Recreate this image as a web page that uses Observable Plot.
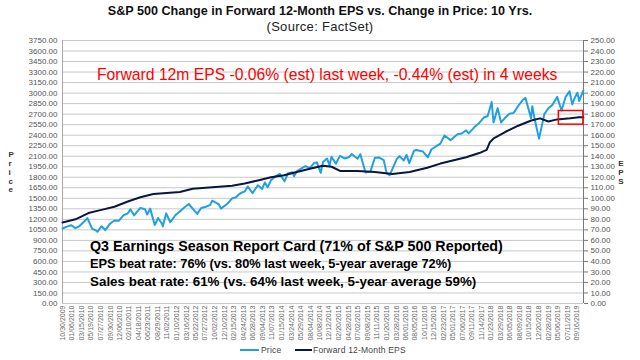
<!DOCTYPE html>
<html>
<head>
<meta charset="utf-8">
<script src="https://cdn.jsdelivr.net/npm/d3@7"></script>
<script src="https://cdn.jsdelivr.net/npm/@observablehq/plot@0.6"></script>
<style>
  html, body { margin: 0; padding: 0; background: #fff; }
  body { font-family: "Liberation Sans", Arial, sans-serif; }
  #wrap { position: relative; width: 640px; height: 360px; overflow: hidden; background: #fff; }
  #title { position: absolute; left: 0; top: 5px; width: 640px; text-align: center; font-weight: bold; font-size: 12.6px; line-height: 1; color: #111; }
  #subtitle { position: absolute; left: 0; top: 20px; width: 640px; text-align: center; font-size: 13px; letter-spacing: 0.3px; line-height: 1; color: #222; }
  #chart { position: absolute; left: 0; top: 36px; }
  .note { position: absolute; white-space: nowrap; line-height: 1; }
  #red { left: 97px; top: 67px; font-size: 15.7px; color: #ff0000; }
  #q3 { left: 90px; top: 239px; font-size: 14.3px; font-weight: bold; color: #000; }
  #eps { left: 90px; top: 258px; font-size: 12.8px; font-weight: bold; color: #000; }
  #sales { left: 90px; top: 275px; font-size: 13.4px; font-weight: bold; color: #000; }
  .lg { position: absolute; top: 345px; font-size: 8.5px; letter-spacing: 0.2px; color: #444; line-height: 10px; white-space: nowrap; }
  .sw { position: absolute; top: 349px; height: 0; border-top: 2px solid; }
</style>
</head>
<body>
<div id="wrap">
  <div id="title">S&amp;P 500 Change in Forward 12-Month EPS vs. Change in Price: 10 Yrs.</div>
  <div id="subtitle">(Source: FactSet)</div>
  <div id="chart"></div>
  <div class="note" id="red">Forward 12m EPS -0.06% (est) last week, -0.44% (est) in 4 weeks</div>
  <div class="note" id="q3">Q3 Earnings Season Report Card (71% of S&amp;P 500 Reported)</div>
  <div class="note" id="eps">EPS beat rate: 76% (vs. 80% last week, 5-year average 72%)</div>
  <div class="note" id="sales">Sales beat rate: 61% (vs. 64% last week, 5-year average 59%)</div>
  <div id="legend"></div>
</div>
<script>
// ---- data ----
const seriesNames = ["Price", "Forward 12-Month EPS"];
const priceDates = [
"2009-10-30","2009-11-30","2009-12-31","2010-01-29","2010-02-26","2010-03-31","2010-04-23","2010-05-25","2010-06-30","2010-07-02",
"2010-07-30","2010-08-26","2010-09-30","2010-10-29","2010-11-30","2010-12-31","2011-01-31","2011-02-18","2011-03-16","2011-04-29",
"2011-05-31","2011-06-16","2011-07-07","2011-08-08","2011-08-31","2011-09-30","2011-10-03","2011-10-27","2011-11-25","2011-12-30",
"2012-01-31","2012-02-29","2012-04-02","2012-06-01","2012-06-29","2012-07-31","2012-08-31","2012-09-14","2012-10-31","2012-11-15",
"2012-12-31","2013-01-31","2013-02-28","2013-03-28","2013-04-30","2013-05-21","2013-06-24","2013-07-31","2013-08-30","2013-09-18",
"2013-10-08","2013-10-31","2013-11-29","2013-12-31","2014-02-03","2014-02-28","2014-03-31","2014-04-11","2014-04-30","2014-05-30",
"2014-06-30","2014-07-31","2014-08-29","2014-09-18","2014-10-15","2014-10-31","2014-11-28","2014-12-16","2014-12-29","2015-01-30",
"2015-02-27","2015-03-31","2015-04-30","2015-05-21","2015-06-30","2015-07-20","2015-08-25","2015-09-29","2015-10-30","2015-11-30",
"2015-12-31","2016-01-20","2016-02-11","2016-03-31","2016-04-20","2016-05-19","2016-06-08","2016-06-27","2016-07-29","2016-08-15",
"2016-09-30","2016-11-04","2016-11-30","2016-12-30","2017-01-31","2017-03-01","2017-04-13","2017-05-31","2017-06-30","2017-07-31",
"2017-08-18","2017-09-29","2017-10-31","2017-11-30","2017-12-29","2018-01-26","2018-02-08","2018-03-09","2018-04-02","2018-04-30",
"2018-05-31","2018-06-29","2018-07-31","2018-08-31","2018-09-20","2018-10-29","2018-11-07","2018-11-23","2018-12-24","2019-01-31",
"2019-02-28","2019-03-29","2019-04-30","2019-05-31","2019-06-28","2019-07-26","2019-08-14","2019-08-30","2019-09-19","2019-10-02",
"2019-10-31"
];
const priceValues = [
1070,1096,1115,1074,1104,1169,1217,1067,1031,1022,
1102,1047,1141,1183,1181,1258,1286,1343,1257,1364,
1345,1268,1353,1119,1219,1131,1099,1285,1159,1258,
1312,1366,1419,1278,1362,1379,1407,1466,1412,1353,
1426,1498,1515,1569,1598,1669,1573,1686,1633,1725,
1656,1757,1806,1848,1742,1859,1872,1815,1884,1924,
1960,1931,2003,2011,1862,2018,2068,1972,2091,1995,
2105,2068,2086,2131,2063,2129,1868,1884,2079,2080,
2044,1859,1829,2060,2102,2040,2119,2001,2174,2190,
2168,2085,2199,2239,2279,2396,2329,2412,2423,2470,
2426,2519,2575,2648,2674,2873,2581,2786,2582,2648,
2705,2718,2816,2902,2931,2641,2814,2633,2351,2704,
2784,2834,2946,2752,2942,3026,2840,2926,3006,2888,
3038
];
const epsDates = [
"2009-10-30","2010-01-29","2010-04-30","2010-07-30","2010-10-29","2011-01-31","2011-04-29","2011-07-29","2011-10-31","2012-01-31",
"2012-04-30","2012-07-31","2012-10-31","2013-01-31","2013-04-30","2013-07-31","2013-10-31","2014-01-31","2014-04-30","2014-07-31",
"2014-10-31","2014-12-31","2015-02-27","2015-06-30","2015-10-30","2016-02-29","2016-06-30","2016-10-31","2017-01-31","2017-04-28",
"2017-07-31","2017-10-31","2017-12-22","2018-01-12","2018-02-09","2018-04-30","2018-07-31","2018-10-31","2018-12-31","2019-02-28",
"2019-04-30","2019-07-31","2019-09-30","2019-10-31"
];
const epsValues = [
77,80,86,89,92,97,101,104,105,106,
109,110,111,112,114,117,120,122,125,128,
131,130,126,126,125,123,125,129,133,136,
139,143,146,153,157,163,169,174,176,173,
175,176,177,177
];
const priceTicks = [0,150,300,450,600,750,900,1050,1200,1350,1500,1650,1800,1950,2100,2250,2400,2550,2700,2850,3000,3150,3300,3450,3600,3750];
const epsPerPrice = 15; // right axis: 0..250 aligned with left 0..3750
const xTickDates = [
"2009-10-30","2010-01-06","2010-03-15","2010-05-19","2010-07-27","2010-09-30","2010-12-06","2011-02-10","2011-04-18","2011-06-23",
"2011-08-29","2011-11-02","2012-01-10","2012-03-16","2012-05-22","2012-07-27","2012-10-02","2012-12-10","2013-02-15","2013-04-24",
"2013-06-28","2013-09-04","2013-11-07","2014-01-15","2014-03-24","2014-05-29","2014-08-04","2014-10-08","2014-12-12","2015-02-20",
"2015-04-28","2015-07-02","2015-09-08","2015-11-11","2016-01-20","2016-03-28","2016-06-01","2016-08-05","2016-10-11","2016-12-15",
"2017-02-23","2017-05-01","2017-07-06","2017-09-11","2017-11-14","2018-01-23","2018-03-29","2018-06-05","2018-08-09","2018-10-15",
"2018-12-20","2019-02-28","2019-05-06","2019-07-11","2019-09-16"
];
const xDomain = ["2009-10-30", "2019-11-01"];
const boxDates = ["2019-05-12", "2019-10-31"];
const boxEps = [170, 183];
const colors = ["#20a0e0", "#0b1640"];

// ---- legend (HTML, below the plot) ----
const legendEl = document.getElementById("legend");
[[240, 19, 261], [295, 17, 313]].forEach(([sx, sw, tx], i) => {
  const s = document.createElement("div");
  s.className = "sw"; s.style.left = sx + "px"; s.style.width = sw + "px"; s.style.borderColor = colors[i];
  const t = document.createElement("div");
  t.className = "lg"; t.style.left = tx + "px"; t.textContent = seriesNames[i];
  legendEl.appendChild(s); legendEl.appendChild(t);
});

// ---- build ----
const price = priceDates.map((d, i) => ({date: new Date(d), v: priceValues[i]}));
const eps = epsDates.map((d, i) => ({date: new Date(d), v: epsValues[i]}));
const x0 = new Date(xDomain[0]), x1 = new Date(xDomain[1]);
const fmt = d3.utcFormat("%m/%d/%Y");

const chart = Plot.plot({
  width: 640,
  height: 306,
  marginTop: 4,
  marginBottom: 39,
  marginLeft: 62,
  marginRight: 57,
  style: {fontFamily: "Liberation Sans, Arial, sans-serif", fontSize: "8px", color: "#555", background: "transparent"},
  x: {type: "utc", domain: [x0, x1]},
  y: {domain: [0, 3750]},
  marks: [
    Plot.ruleY(priceTicks, {stroke: "#c8c8c8", strokeWidth: 1}),
    Plot.ruleX([x0], {stroke: "#aaa"}),
    Plot.ruleX([x1], {stroke: "#777"}),
    Plot.axisY(priceTicks, {anchor: "left", tickSize: 0, tickPadding: 5, tickFormat: d => d.toFixed(2), label: null, fill: "#555"}),
    Plot.axisY(priceTicks, {anchor: "right", tickSize: 4, tickPadding: 3, stroke: "#777", tickFormat: d => (d / epsPerPrice).toFixed(2), label: null, fill: "#555"}),
    Plot.axisX(xTickDates.map(d => new Date(d)), {tickRotate: -90, tickSize: 0, tickPadding: 2, fontSize: 7, tickFormat: fmt, label: null, fill: "#666"}),
    Plot.lineY(price, {x: "date", y: "v", stroke: colors[0], strokeWidth: 2}),
    Plot.lineY(eps, {x: "date", y: d => d.v * epsPerPrice, stroke: colors[1], strokeWidth: 2}),
    Plot.rect([0], {x1: () => new Date(boxDates[0]), x2: () => new Date(boxDates[1]), y1: () => boxEps[0] * epsPerPrice, y2: () => boxEps[1] * epsPerPrice, fill: "none", stroke: "#ff0000", strokeWidth: 1.5}),
    Plot.text(["P\nr\ni\nc\ne"], {frameAnchor: "left", dx: -54, fontSize: 8, fontWeight: "bold", fill: "#333", lineHeight: 1.1}),
    Plot.text(["E\nP\nS"], {frameAnchor: "right", dx: 40, fontSize: 8, fontWeight: "bold", fill: "#333", lineHeight: 1.1})
  ]
});
document.getElementById("chart").appendChild(chart);
</script>
</body>
</html>
